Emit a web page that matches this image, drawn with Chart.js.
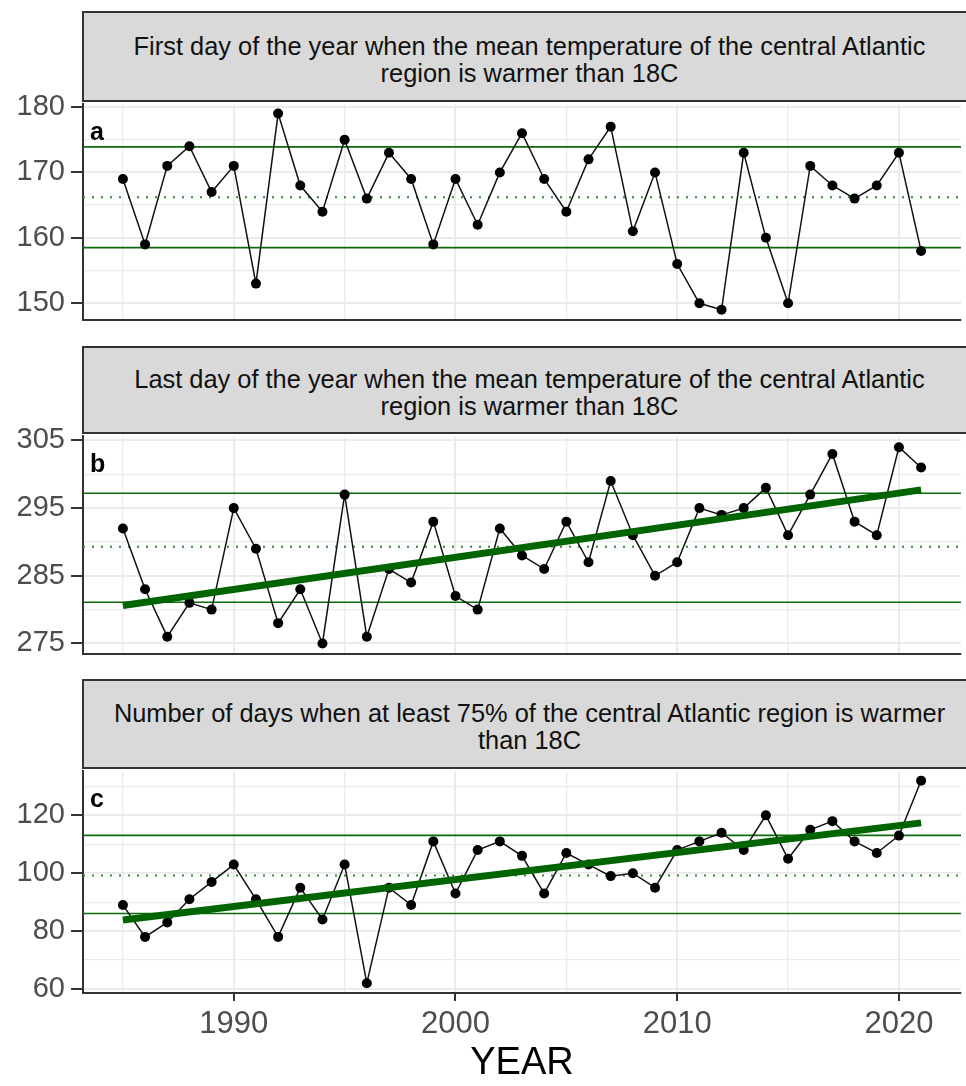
<!DOCTYPE html>
<html>
<head>
<meta charset="utf-8">
<script src="https://cdn.jsdelivr.net/npm/chart.js@4.4.0/dist/chart.umd.min.js"></script>
<style>
  body { margin: 0; background: #fff; }
  #wrap { position: relative; width: 966px; height: 1086px; overflow: hidden; font-family: 'Liberation Sans', Arial, sans-serif; }
  .strip { position: absolute; left: 82px; width: 895px; box-sizing: border-box; background: #d9d9d9; border: 2px solid #333;
           padding-top: 6px;
           display: flex; align-items: center; justify-content: center; text-align: center;
           color: #111; font-size: 25.4px; line-height: 27px; z-index: 2; }
  .plot { position: absolute; left: 0; }
</style>
</head>
<body>
<div id="wrap"></div>
<script>
// years on the x axis
const years = [1985, 1986, 1987, 1988, 1989, 1990, 1991, 1992, 1993, 1994,
               1995, 1996, 1997, 1998, 1999, 2000, 2001, 2002, 2003, 2004,
               2005, 2006, 2007, 2008, 2009, 2010, 2011, 2012, 2013, 2014,
               2015, 2016, 2017, 2018, 2019, 2020, 2021];

// a: first day of year warmer than 18C
const firstDay = [169, 159, 171, 174, 167, 171, 153, 179, 168, 164,
                  175, 166, 173, 169, 159, 169, 162, 170, 176, 169,
                  164, 172, 177, 161, 170, 156, 150, 149, 173, 160,
                  150, 171, 168, 166, 168, 173, 158];
// b: last day of year warmer than 18C
const lastDay = [292, 283, 276, 281, 280, 295, 289, 278, 283, 275,
                 297, 276, 286, 284, 293, 282, 280, 292, 288, 286,
                 293, 287, 299, 291, 285, 287, 295, 294, 295, 298,
                 291, 297, 303, 293, 291, 304, 301];
// c: number of days with >= 75% of region warmer than 18C
const warmDays = [89, 78, 83, 91, 97, 103, 91, 78, 95, 84,
                  103, 62, 95, 89, 111, 93, 108, 111, 106, 93,
                  107, 103, 99, 100, 95, 108, 111, 114, 108, 120,
                  105, 115, 118, 111, 107, 113, 132];

// reference lines: [mean - sd, mean, mean + sd]
const refFirst = [158.5, 166.2, 173.9];
const refLast = [281.1, 289.3, 297.2];
const refWarm = [86.1, 99.2, 113.1];

// linear trend end points
const trendYears = [1985, 2021];
const trendLast = [280.6, 297.7];
const trendWarm = [83.8, 117.4];

// axis limits and ticks
const xLimits = [1983.2, 2022.8];
const xMajor = [1990, 2000, 2010, 2020];
const xMinor = [1985, 1995, 2005, 2015];
const yLimFirst = [147.5, 180.4];
const yMajorFirst = [150, 160, 170, 180];
const yMinorFirst = [155, 165, 175];
const yLimLast = [273.5, 305.6];
const yMajorLast = [275, 285, 295, 305];
const yMinorLast = [280, 290, 300];
const yLimWarm = [58.6, 135.2];
const yMajorWarm = [60, 80, 100, 120];
const yMinorWarm = [70, 90, 110, 130];

const titleFirst = ['First day of the year when the mean temperature of the central Atlantic', 'region is warmer than 18C'];
const titleLast = ['Last day of the year when the mean temperature of the central Atlantic', 'region is warmer than 18C'];
const titleWarm = ['Number of days when at least 75% of the central Atlantic region is warmer', 'than 18C'];
const xTitle = 'YEAR';

const family = "'Liberation Sans', Arial, sans-serif";

const panelTag = {
  id: 'panelTag',
  afterDraw(chart, args, opts) {
    const { ctx, chartArea } = chart;
    ctx.save();
    ctx.font = 'bold 25px ' + family;
    ctx.fillStyle = '#000';
    ctx.fillText(opts.text, chartArea.left + 7, chartArea.top + 36);
    ctx.restore();
  }
};

const panels = [
  { title: titleFirst, tag: 'a', values: firstDay, ref: refFirst, trend: null,
    yLim: yLimFirst, yMajor: yMajorFirst, yMinor: yMinorFirst,
    stripTop: 11, stripH: 91, top: 81, h: 262, bottom: false },
  { title: titleLast, tag: 'b', values: lastDay, ref: refLast, trend: trendLast,
    yLim: yLimLast, yMajor: yMajorLast, yMinor: yMinorLast,
    stripTop: 346, stripH: 88, top: 413, h: 264, bottom: false },
  { title: titleWarm, tag: 'c', values: warmDays, ref: refWarm, trend: trendWarm,
    yLim: yLimWarm, yMajor: yMajorWarm, yMinor: yMinorWarm,
    stripTop: 679, stripH: 90, top: 748, h: 338, bottom: true }
];

const wrap = document.getElementById('wrap');

function hline(v, dotted) {
  return {
    data: xLimits.map(x => ({ x: x, y: v })),
    borderColor: dotted ? '#2e8b2e' : '#0b6b0b',
    borderWidth: dotted ? 2 : 1.6,
    borderDash: dotted ? [2, 7] : [],
    pointRadius: 0,
    order: 3
  };
}

panels.forEach(p => {
  const strip = document.createElement('div');
  strip.className = 'strip';
  strip.style.top = p.stripTop + 'px';
  strip.style.height = p.stripH + 'px';
  strip.innerHTML = p.title.join('<br>');
  wrap.appendChild(strip);

  const canvas = document.createElement('canvas');
  canvas.className = 'plot';
  canvas.width = 966;
  canvas.height = p.h;
  canvas.style.top = p.top + 'px';
  wrap.appendChild(canvas);

  const datasets = [
    hline(p.ref[0], false),
    hline(p.ref[1], true),
    hline(p.ref[2], false),
    {
      data: years.map((y, i) => ({ x: y, y: p.values[i] })),
      borderColor: '#111',
      borderWidth: 1.5,
      pointRadius: 5,
      pointBackgroundColor: '#000',
      pointBorderWidth: 0,
      order: 1
    }
  ];
  if (p.trend) {
    datasets.push({
      data: trendYears.map((y, i) => ({ x: y, y: p.trend[i] })),
      borderColor: '#006400',
      borderWidth: 7,
      borderCapStyle: 'butt',
      pointRadius: 0,
      order: 0
    });
  }

  new Chart(canvas.getContext('2d'), {
    type: 'line',
    data: { datasets: datasets },
    plugins: [panelTag],
    options: {
      responsive: false,
      animation: false,
      layout: { padding: { top: 20, bottom: p.bottom ? 0 : 20, left: 0, right: 0 } },
      plugins: {
        legend: { display: false },
        tooltip: { enabled: false },
        panelTag: { text: p.tag }
      },
      scales: {
        x: {
          type: 'linear',
          min: xLimits[0],
          max: xLimits[1],
          afterBuildTicks: s => { s.ticks = xMinor.concat(xMajor).sort((a, b) => a - b).map(v => ({ value: v })); },
          afterFit: s => { s.height = p.bottom ? 93 : 0; },
          ticks: {
            display: p.bottom,
            autoSkip: false,
            maxRotation: 0,
            padding: 5,
            color: '#4d4d4d',
            font: { size: 31, family: family },
            callback: v => xMajor.includes(v) ? String(v) : ''
          },
          grid: {
            color: '#ebebeb',
            lineWidth: c => xMajor.includes(c.tick && c.tick.value) ? 2 : 1.3,
            drawTicks: p.bottom,
            tickLength: 8,
            tickWidth: 2,
            tickColor: c => xMajor.includes(c.tick && c.tick.value) ? '#333' : 'rgba(0,0,0,0)'
          },
          border: { display: true, color: '#333', width: 2 },
          title: { display: p.bottom, text: xTitle, color: '#000', font: { size: 38, family: family }, padding: 0 }
        },
        y: {
          type: 'linear',
          min: p.yLim[0],
          max: p.yLim[1],
          afterBuildTicks: s => { s.ticks = p.yMinor.concat(p.yMajor).sort((a, b) => a - b).map(v => ({ value: v })); },
          afterFit: s => { s.width = 83; },
          ticks: {
            autoSkip: false,
            padding: 6,
            color: '#4d4d4d',
            font: { size: 29, family: family },
            callback: v => p.yMajor.includes(v) ? String(v) : ''
          },
          grid: {
            color: '#ebebeb',
            lineWidth: c => p.yMajor.includes(c.tick && c.tick.value) ? 2 : 1.3,
            tickLength: 12,
            tickWidth: 2,
            tickColor: c => p.yMajor.includes(c.tick && c.tick.value) ? '#333' : 'rgba(0,0,0,0)'
          },
          border: { display: true, color: '#333', width: 2 }
        }
      }
    }
  });
});
</script>
</body>
</html>
